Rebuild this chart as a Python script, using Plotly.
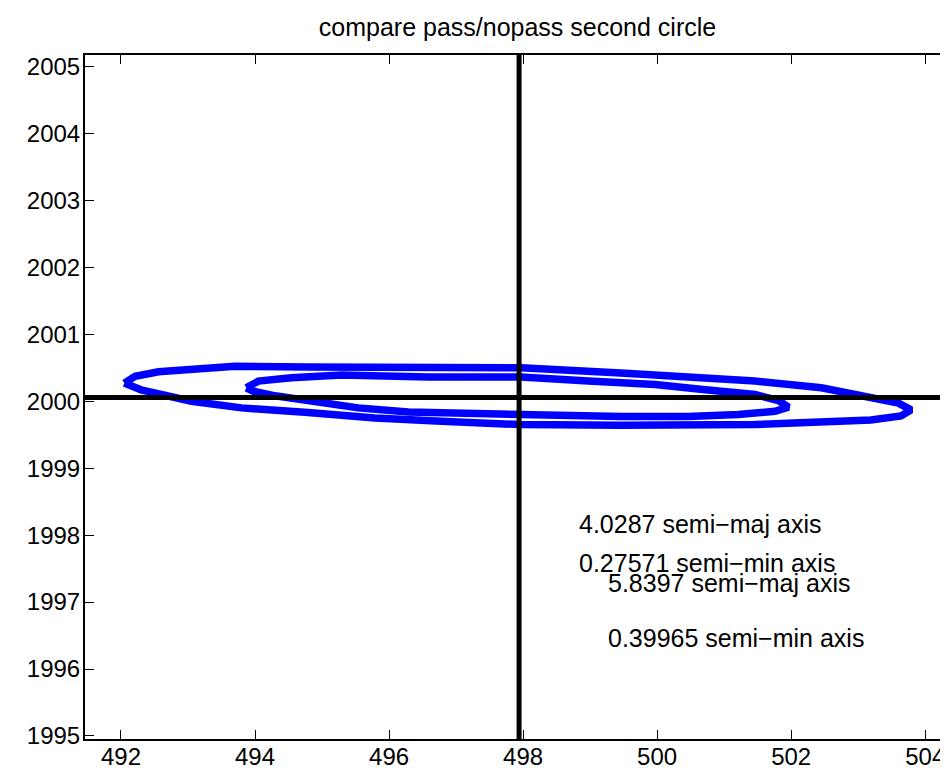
import plotly.graph_objects as go

# ---- data ----
big_x = [492.05, 492.21, 492.56, 493.05, 493.70, 494.79, 496.29, 497.97, 499.46, 500.46,
         501.46, 502.45, 503.19, 503.60, 503.79, 503.64, 503.19, 502.45, 501.46, 499.46,
         497.97, 496.78, 495.79, 494.79, 493.80, 493.05, 492.30, 492.05]
big_y = [2000.27, 2000.37, 2000.44, 2000.47, 2000.52, 2000.51, 2000.51, 2000.50, 2000.42, 2000.37,
         2000.30, 2000.20, 2000.07, 1999.97, 1999.87, 1999.78, 1999.72, 1999.68, 1999.65, 1999.64,
         1999.65, 1999.70, 1999.75, 1999.83, 1999.90, 2000.00, 2000.17, 2000.27]

small_x = [493.87, 494.05, 494.54, 495.29, 496.58, 497.97, 498.97, 499.97, 500.72, 501.46,
           501.81, 501.96, 501.76, 501.21, 500.46, 499.46, 497.97, 497.28, 496.29, 495.54,
           494.79, 494.30, 493.97, 493.87]
small_y = [2000.20, 2000.30, 2000.35, 2000.39, 2000.36, 2000.36, 2000.30, 2000.25, 2000.17, 2000.10,
           2000.01, 1999.91, 1999.85, 1999.80, 1999.77, 1999.77, 1999.80, 1999.81, 1999.84, 1999.90,
           2000.00, 2000.08, 2000.15, 2000.20]

center_x = 497.94
center_y = 2000.054

x_range = [491.463, 504.37]
y_range = [1994.955, 2005.17]
x_ticks = [492, 494, 496, 498, 500, 502, 504]
y_ticks = [1995, 1996, 1997, 1998, 1999, 2000, 2001, 2002, 2003, 2004, 2005]

label_texts = ["4.0287 semi\u2212maj axis", "0.27571 semi\u2212min axis",
               "5.8397 semi\u2212maj axis", "0.39965 semi\u2212min axis"]
label_x = [498.81, 498.81, 499.23, 499.23]
label_y = [1998.17, 1997.58, 1997.28, 1996.46]

title_text = "compare pass/nopass second circle"

FONT = "Liberation Sans, Arial, Helvetica, sans-serif"

fig = go.Figure()
fig.add_trace(go.Scatter(x=big_x, y=big_y, mode="lines",
                         line=dict(color="#0000FF", width=7.5), showlegend=False))
fig.add_trace(go.Scatter(x=small_x, y=small_y, mode="lines",
                         line=dict(color="#0000FF", width=7.5), showlegend=False))
# cross-hair lines
fig.add_trace(go.Scatter(x=[center_x, center_x], y=y_range, mode="lines",
                         line=dict(color="black", width=5), showlegend=False))
fig.add_trace(go.Scatter(x=x_range, y=[center_y, center_y], mode="lines",
                         line=dict(color="black", width=5), showlegend=False))

for t, xx, yy in zip(label_texts, label_x, label_y):
    fig.add_annotation(x=xx, y=yy, text=t, showarrow=False, xanchor="left", yanchor="middle",
                       font=dict(family=FONT, size=25, color="black"))

axis_common = dict(showgrid=False, zeroline=False, showline=True, linecolor="black", linewidth=2,
                   mirror="ticks", ticks="inside", ticklen=9, tickwidth=1, tickcolor="black",
                   automargin=False,
                   tickfont=dict(family=FONT, size=24, color="black"))

fig.update_xaxes(range=x_range, tickvals=x_ticks, ticklabelstandoff=-5, **axis_common)
fig.update_yaxes(range=y_range, tickvals=y_ticks, ticklabelstandoff=-2, **axis_common)

fig.update_layout(
    width=948, height=772,
    margin=dict(l=77, r=6, t=47, b=41),
    paper_bgcolor="white", plot_bgcolor="white",
    title=dict(text=title_text, x=0.5, xref="paper", xanchor="center",
               y=1 - 19 / 772, yanchor="middle",
               font=dict(family=FONT, size=25, color="black")),
    showlegend=False,
)

fig.write_html("out.html")
